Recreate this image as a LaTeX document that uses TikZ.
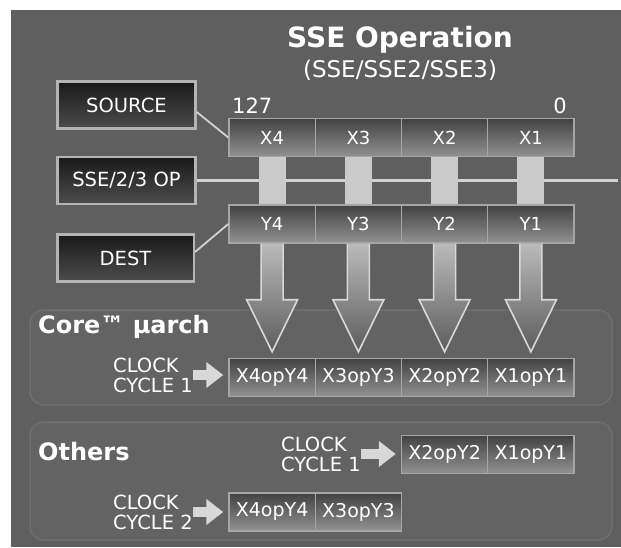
\documentclass[tikz,border=0pt]{standalone}
\usepackage{fontspec}
\setmainfont{DejaVu Sans}
\usetikzlibrary{arrows.meta,calc}

\definecolor{bg}{HTML}{5F5F5F}
\definecolor{panelfill}{HTML}{636363}
\definecolor{paneledge}{HTML}{6F6F6F}
\definecolor{boxedge}{HTML}{B4B4B4}
\definecolor{celledge}{HTML}{A6A6A6}
\definecolor{wire}{HTML}{D2D2D2}
\definecolor{barfill}{HTML}{CACACA}
\definecolor{pale}{HTML}{D8D8D8}

\tikzset{
  labelbox/.style={draw=boxedge, line width=2.5pt, top color=black!90, bottom color=black!70,
    minimum width=138pt, minimum height=47pt, inner sep=0pt, text=white,
    font=\fontsize{19.5}{21}\selectfont},
  regcell/.style={draw=celledge, line width=1.4pt, top color=black!74, bottom color=black!43,
    minimum width=86.25pt, minimum height=38pt, inner sep=0pt, text=white,
    font=\fontsize{18}{20}\selectfont},
  rescell/.style={regcell, font=\fontsize{19}{21}\selectfont},
  wirelink/.style={draw=wire, line width=1.8pt},
  opwire/.style={draw=wire, line width=2.6pt},
  lanebar/.style={fill=barfill},
  hollowarrow/.style={draw=pale, line width=1.6pt, top color=black!27, bottom color=black!64},
  clockarrow/.style={draw=pale, line width=10pt, -{Triangle[length=17pt,width=25pt]}},
  clocklabel/.style={text=white, align=left, inner sep=0pt, anchor=west,
    font=\fontsize{19.5}{20}\selectfont},
  panel/.style={fill=panelfill, draw=paneledge, line width=1.5pt, rounded corners=14pt},
  heading/.style={text=white, inner sep=0pt, anchor=west, font=\bfseries\fontsize{24}{26}\selectfont},
}

\begin{document}
\begin{tikzpicture}[x=1pt,y=-1pt]
  % page and backdrop
  \useasboundingbox (0,0) rectangle (621,547);
  \fill[white] (0,0) rectangle (621,547);
  \fill[bg] (11,10) rectangle (621,547);

  % titles
  \node[text=white, font=\bfseries\fontsize{28}{30}\selectfont] (title) at (400,40) {SSE Operation};
  \node[text=white, font=\fontsize{23}{25}\selectfont] (subtitle) at (400,70) {(SSE/SSE2/SSE3)};

  % group panels
  \path[panel] (30,310) rectangle (612,405);
  \path[panel] (30,422) rectangle (612,540);

  % operand labels
  \node[labelbox] (src) at (126.5,105) {SOURCE};
  \node[labelbox] (op)  at (126.5,180.5) {SSE/2/3 OP};
  \node[labelbox, minimum width=136.5pt] (dst) at (125.5,258) {DEST};

  % bit positions
  \node[text=white, anchor=west, inner sep=0pt, font=\fontsize{21}{23}\selectfont] (msb) at (232,106) {127};
  \node[text=white, anchor=east, inner sep=0pt, font=\fontsize{21}{23}\selectfont] (lsb) at (567,106) {0};

  % operation wire (behind the lane bars)
  \coordinate (opend) at (618,180.5);
  \draw[opwire] (op.east) -- (opend);

  % source and destination registers
  \foreach \i/\x in {4/272.1,3/358.4,2/444.6,1/530.9}{
    \node[regcell] (x\i) at (\x,137.5) {X\i};
    \node[regcell] (y\i) at (\x,224) {Y\i};
  }

  % lanes joining the two registers
  \foreach \i in {4,3,2,1}{
    \fill[lanebar] ($(x\i.south)+(-13.5,0)$) rectangle ($(y\i.north)+(13.5,0)$);
  }

  % label connectors
  \draw[wirelink] ($(src.east)+(0,7)$) -- (x4.west);
  \draw[wirelink] ($(dst.east)+(0,-6)$) -- (y4.west);

  % Core results, one clock cycle
  \foreach \i/\x in {4/272.1,3/358.4,2/444.6,1/530.9}{
    \node[rescell] (c\i) at (\x,377.5) {X\i opY\i};
  }

  % hollow arrows from the destination lanes to the results
  \foreach \i in {4,3,2,1}{
    \path[hollowarrow]
      ($(y\i.south)+(-11,0)$) -- ($(y\i.south)+(-11,56)$) -- ($(y\i.south)+(-25.5,56)$)
      -- ($(c\i.north)+(0,-6)$)
      -- ($(y\i.south)+(25.5,56)$) -- ($(y\i.south)+(11,56)$) -- ($(y\i.south)+(11,0)$);
  }

  \node[heading] (core) at (38,327) {Core™ µarch};
  \node[clocklabel] (clka) at (113,375) {CLOCK\\CYCLE 1};
  \draw[clockarrow, shorten >=5pt] (clka.east) -- (clka.east -| c4.west);

  % other processors, two clock cycles
  \node[heading] (others) at (38,452) {Others};

  \node[rescell] (o2) at (444.6,454.5) {X2opY2};
  \node[rescell] (o1) at (530.9,454.5) {X1opY1};
  \node[clocklabel] (clkb) at (281,454) {CLOCK\\CYCLE 1};
  \draw[clockarrow, shorten >=5pt] (clkb.east) -- (clkb.east -| o2.west);

  \node[rescell] (o4) at (272.1,512) {X4opY4};
  \node[rescell] (o3) at (358.4,512) {X3opY3};
  \node[clocklabel] (clkc) at (113,512) {CLOCK\\CYCLE 2};
  \draw[clockarrow, shorten >=5pt] (clkc.east) -- (clkc.east -| o4.west);
\end{tikzpicture}
\end{document}
